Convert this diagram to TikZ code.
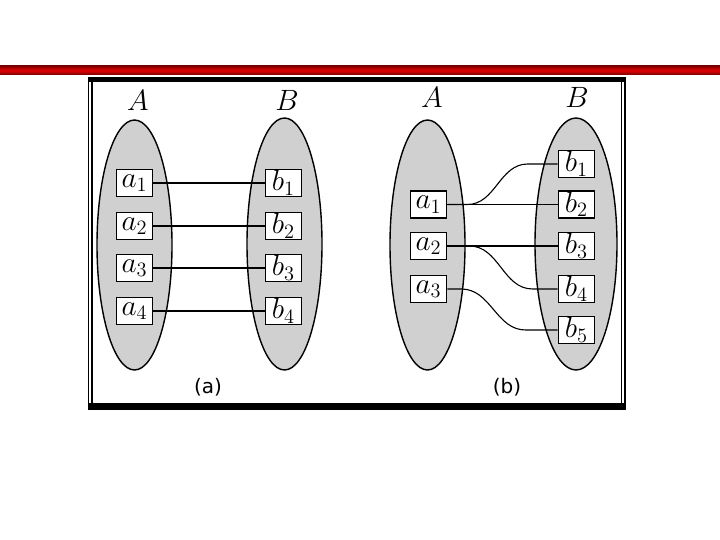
\documentclass[tikz,border=0pt]{standalone}
\usepackage{graphicx}
\usepackage{fontspec}
\newfontfamily\capfont{DejaVu Sans}
\usetikzlibrary{shapes.geometric}
\definecolor{setgray}{RGB}{208,208,208}
\definecolor{barred}{RGB}{225,0,0}
\definecolor{bardark}{RGB}{130,0,0}
\newcommand{\mtxt}[1]{\scalebox{1.7}{$#1$}}
\begin{document}
\begin{tikzpicture}[x=1pt,y=-1pt,
  setshape/.style={ellipse, draw, line width=1.4pt, fill=setgray, inner sep=0pt},
  elem/.style={draw, fill=white, line width=1.6pt, minimum width=36pt, minimum height=27pt, inner sep=0pt, font=\fontsize{17}{20}\selectfont},
  setlab/.style={font=\fontsize{17}{20}\selectfont},
  caplab/.style={font=\capfont\fontsize{20}{24}\selectfont},
  conn/.style={draw, line width=1.1pt},
  framebar/.style={fill=black},
  frameline/.style={line width=1.3pt}]
\useasboundingbox (0,0) rectangle (720,540);
\fill[white] (0,0) rectangle (720,540);
% red bar
\shade[top color=bardark, bottom color=bardark, middle color=barred] (0,66) rectangle (720,74.5);
% frame
\fill[framebar] (88,77) rectangle (625.5,82.5);
\fill[framebar] (88,403) rectangle (625.5,409.5);
\draw[frameline] (88.5,77) -- (88.5,409.5);
\draw[frameline] (92,82) -- (92,403.5);
\draw[frameline] (621.5,82) -- (621.5,403.5);
\draw[frameline] (625,77) -- (625,409.5);

% ---- panel (a)
\node[setshape, minimum width=75pt, minimum height=250pt] (SAa) at (134.5,245) {};
\node[setshape, minimum width=75pt, minimum height=252pt] (SBa) at (284.5,244) {};
\node[setlab] (LAa) at (138,100) {\mtxt{A}};
\node[setlab] (LBa) at (287,100) {\mtxt{B}};
\node[elem] (a1) at (134.5,183) {\mtxt{a_1}};
\node[elem] (a2) at (134.5,226) {\mtxt{a_2}};
\node[elem] (a3) at (134.5,268) {\mtxt{a_3}};
\node[elem] (a4) at (134.5,311) {\mtxt{a_4}};
\node[elem] (b1) at (283.5,183) {\mtxt{b_1}};
\node[elem] (b2) at (283.5,226) {\mtxt{b_2}};
\node[elem] (b3) at (283.5,268) {\mtxt{b_3}};
\node[elem] (b4) at (283.5,311) {\mtxt{b_4}};
\draw[conn] (a1.east) -- (b1.west);
\draw[conn] (a2.east) -- (b2.west);
\draw[conn] (a3.east) -- (b3.west);
\draw[conn] (a4.east) -- (b4.west);
\node[caplab] (capa) at (208,387) {(a)};

% ---- panel (b)
\node[setshape, minimum width=75pt, minimum height=250pt] (SAb) at (427.5,245) {};
\node[setshape, minimum width=82pt, minimum height=252pt] (SBb) at (576,244) {};
\node[setlab] (LAb) at (432,97) {\mtxt{A}};
\node[setlab] (LBb) at (577,97) {\mtxt{B}};
\node[elem] (c1) at (428.5,204.5) {\mtxt{a_1}};
\node[elem] (c2) at (428.5,246) {\mtxt{a_2}};
\node[elem] (c3) at (428.5,289) {\mtxt{a_3}};
\node[elem] (d1) at (576.5,164) {\mtxt{b_1}};
\node[elem] (d2) at (576.5,204.5) {\mtxt{b_2}};
\node[elem] (d3) at (576.5,246) {\mtxt{b_3}};
\node[elem] (d4) at (576.5,289) {\mtxt{b_4}};
\node[elem] (d5) at (576.5,330) {\mtxt{b_5}};
\draw[conn] (c1.east) -- ++(20,0) to[out=0,in=180] ([xshift=-30pt]d1.west) -- (d1.west);
\draw[conn] (c1.east) -- (d2.west);
\draw[conn] (c2.east) -- (d3.west);
\draw[conn] (c2.east) -- ++(22,0) to[out=0,in=180] ([xshift=-25pt]d4.west) -- (d4.west);
\draw[conn] (c3.east) -- ++(14,0) to[out=0,in=180] ([xshift=-32pt]d5.west) -- (d5.west);
\node[caplab] (capb) at (507,387) {(b)};
\end{tikzpicture}
\end{document}
